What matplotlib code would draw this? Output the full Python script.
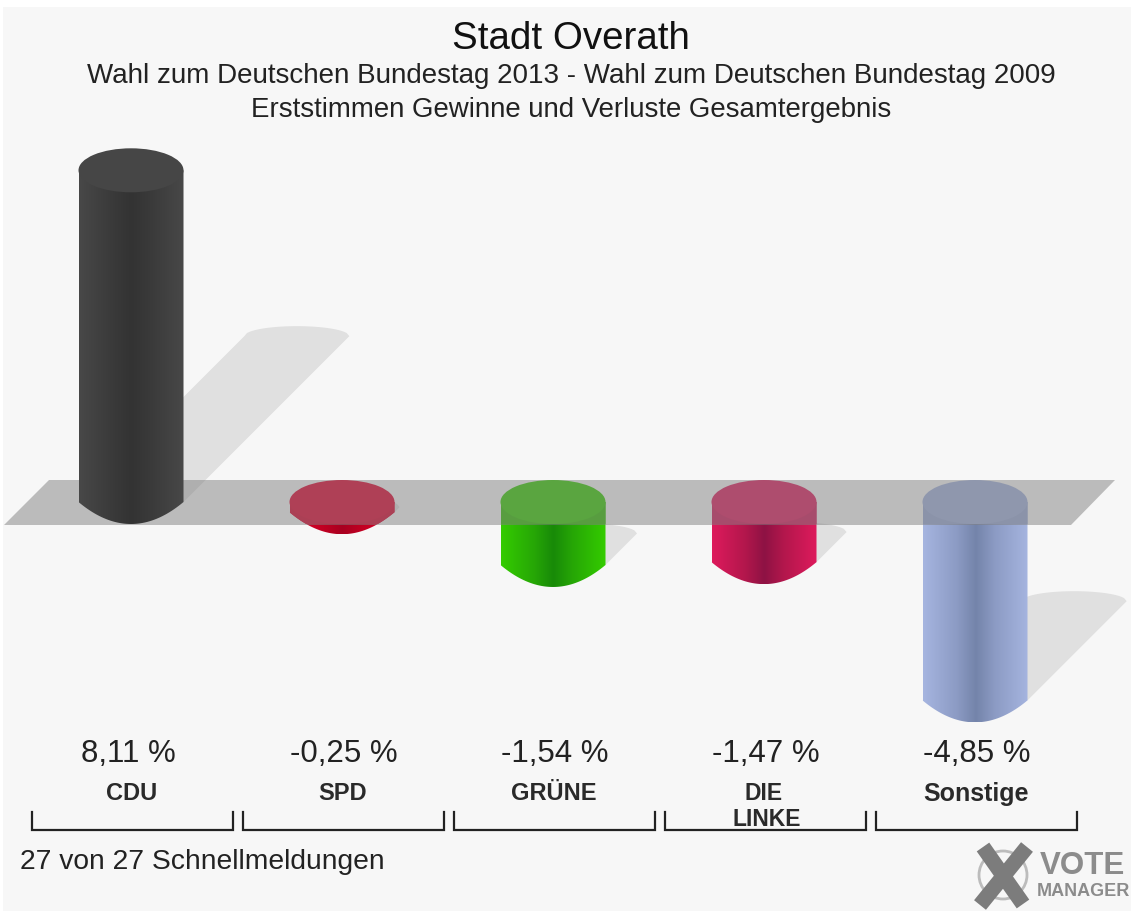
import numpy as np
import matplotlib as mpl
mpl.use('Agg')
import matplotlib.pyplot as plt
from matplotlib.patches import Ellipse, Polygon, Rectangle, Circle
from matplotlib.colors import LinearSegmentedColormap

plt.rcParams['font.family'] = ['Liberation Sans', 'DejaVu Sans']

parties = ['CDU', 'SPD', 'GRÜNE', 'DIE\nLINKE', 'Sonstige']
values = [8.11, -0.25, -1.54, -1.47, -4.85]
value_labels = ['8,11 %', '-0,25 %', '-1,54 %', '-1,47 %', '-4,85 %']
edge_colors = ['#484848', '#e2002c', '#34cc00', '#de1a5c', '#a6b5e0']
near_colors = ['#3a3a3a', '#c00022', '#26a606', '#b2174c', '#8c9bc4']
mid_colors = ['#333333', '#a80020', '#188a08', '#8e1244', '#7484aa']
top_colors = ['#464646', '#e0002c', '#34cc00', '#de1a5c', '#a0b0dc']
band_colors = ['#464646', '#d8002a', '#30bc00', '#d01858', '#98a8d4']

W, H = 1131, 911
x0, dx_px = 131.0, 211.0   # first bar centre, bar spacing
y0, dy_px = 502.0, 40.9    # zero line, pixels per percent

fig = plt.figure(figsize=(W/100, H/100), dpi=100, facecolor='white')

# pixel axes for the frame, plane, brackets and texts
bg = fig.add_axes([0, 0, 1, 1])
bg.set_xlim(0, W)
bg.set_ylim(H, 0)
bg.axis('off')
bg.add_patch(Rectangle((3, 7), W-3, H-7, fc='#f7f7f7', ec='none'))

# data axes: x in categories, y in percent
ax = fig.add_axes([0, 0, 1, 1], facecolor='none')
ax.axis('off')
xlim = (-x0/dx_px, (W-x0)/dx_px)
ylim = ((y0-H)/dy_px, y0/dy_px)

half_w = 52.5/dx_px
half_h = 22.0/dy_px


def body_outline(i, v):
    top, bottom = max(v, 0), min(v, 0)
    t = np.linspace(1, -1, 60)
    xs = i + half_w*t
    ys = bottom - half_h*(1 - t**2)
    return np.vstack([[i-half_w, top], [i+half_w, top], np.column_stack([xs, ys])])


def shadow_outline(i, v):
    # shadow falls up and to the right, from the lower end of the bar
    bottom = min(v, 0)
    h = abs(v)
    sx = h*dy_px/2/dx_px
    sy = h/2
    t = np.linspace(-1, 1, 40)
    xs = i + sx + half_w*t
    ys = bottom + sy + 10/dy_px*np.sqrt(1 - t**2)
    return np.vstack([[i-half_w, bottom], np.column_stack([xs, ys]), [i+half_w, bottom]])


def draw_bar(i, v, z):
    cmap = LinearSegmentedColormap.from_list('c', [(0, edge_colors[i]), (0.32, near_colors[i]),
                                                   (0.5, mid_colors[i]), (0.68, near_colors[i]),
                                                   (1, edge_colors[i])])
    poly = Polygon(body_outline(i, v), closed=True, fc='none', ec='none', zorder=z)
    ax.add_patch(poly)
    top = max(v, 0)
    low = min(v, 0) - half_h
    im = ax.imshow(np.linspace(0, 1, 256).reshape(1, -1), cmap=cmap, aspect='auto',
                   extent=(i-half_w, i+half_w, low, top), zorder=z, interpolation='bilinear')
    im.set_clip_path(poly)
    if v < 0:
        # inside the plane the side of a negative bar looks flat
        flat = Rectangle((i-half_w, -half_h), 2*half_w, half_h, fc=band_colors[i], ec='none', zorder=z+0.05)
        ax.add_patch(flat)
        flat.set_clip_path(poly)
    ax.add_patch(Ellipse((i, top), 2*half_w, 2*half_h, fc=top_colors[i], ec='none', zorder=z+0.1))


for i, v in enumerate(values):
    ax.add_patch(Polygon(shadow_outline(i, v), closed=True, fc='#e0e0e0', ec='none', zorder=1))

for i, v in enumerate(values):
    if v < 0:
        draw_bar(i, v, 2)

# grey plane, see-through over the negative bars
plane = [(4, 525), (49, 480), (1115, 480), (1071, 525)]
ax.add_patch(Polygon([((px-x0)/dx_px, (y0-py)/dy_px) for px, py in plane], closed=True,
                     fc='#808080', ec='none', alpha=0.5, zorder=3))

for i, v in enumerate(values):
    if v >= 0:
        draw_bar(i, v, 4)

ax.set_xlim(*xlim)
ax.set_ylim(*ylim)

# texts on top
fg = fig.add_axes([0, 0, 1, 1], facecolor='none')
fg.set_xlim(0, W)
fg.set_ylim(H, 0)
fg.axis('off')

fg.text(571, 39, 'Stadt Overath', fontsize=27.7, ha='center', va='center', color='#111111')
fg.text(571, 76, 'Wahl zum Deutschen Bundestag 2013 - Wahl zum Deutschen Bundestag 2009',
        fontsize=20, ha='center', va='center', color='#222222')
fg.text(571, 110, 'Erststimmen Gewinne und Verluste Gesamtergebnis',
        fontsize=19.9, ha='center', va='center', color='#222222')

for i, (name, lab) in enumerate(zip(parties, value_labels)):
    cx = x0 + i*dx_px
    fg.text(cx-3 if i == 0 else cx+2, 754, lab, fontsize=22.5, ha='center', va='center', color='#222222')
    if '\n' in name:
        first, second = name.split('\n')
        fg.text(cx, 794, first, fontsize=16.5, fontweight='bold', ha='center', va='center', color='#2a2a2a')
        fg.text(cx+3, 820, second, fontsize=16.5, fontweight='bold', ha='center', va='center', color='#2a2a2a')
    else:
        fg.text(cx+1, 794, name, fontsize=18 if len(name) > 5 else 17, fontweight='bold',
                ha='center', va='center', color='#2a2a2a')
    left = 32 + i*211
    fg.plot([left, left, left+201, left+201], [812, 830, 830, 812], color='#222222', lw=1.6,
            solid_joinstyle='miter')

fg.text(20, 862, '27 von 27 Schnellmeldungen', fontsize=20.3, ha='left', va='center', color='#222222')

# Vote Manager logo
fg.add_patch(Circle((1003, 875), 24, fc='none', ec='#bcbcbc', lw=2))
fg.plot([980, 1027], [905, 847], color='#7c7c7c', lw=11, solid_capstyle='butt')
fg.plot([983, 1023], [847, 904], color='#7c7c7c', lw=11, solid_capstyle='butt')
fg.text(1040, 866, 'VOTE', fontsize=22.5, fontweight='bold', ha='left', va='center', color='#8c8c8c')
fg.text(1037, 892, 'MANAGER', fontsize=13, fontweight='bold', ha='left', va='center', color='#8c8c8c')

fig.savefig('out.png', dpi=100)
